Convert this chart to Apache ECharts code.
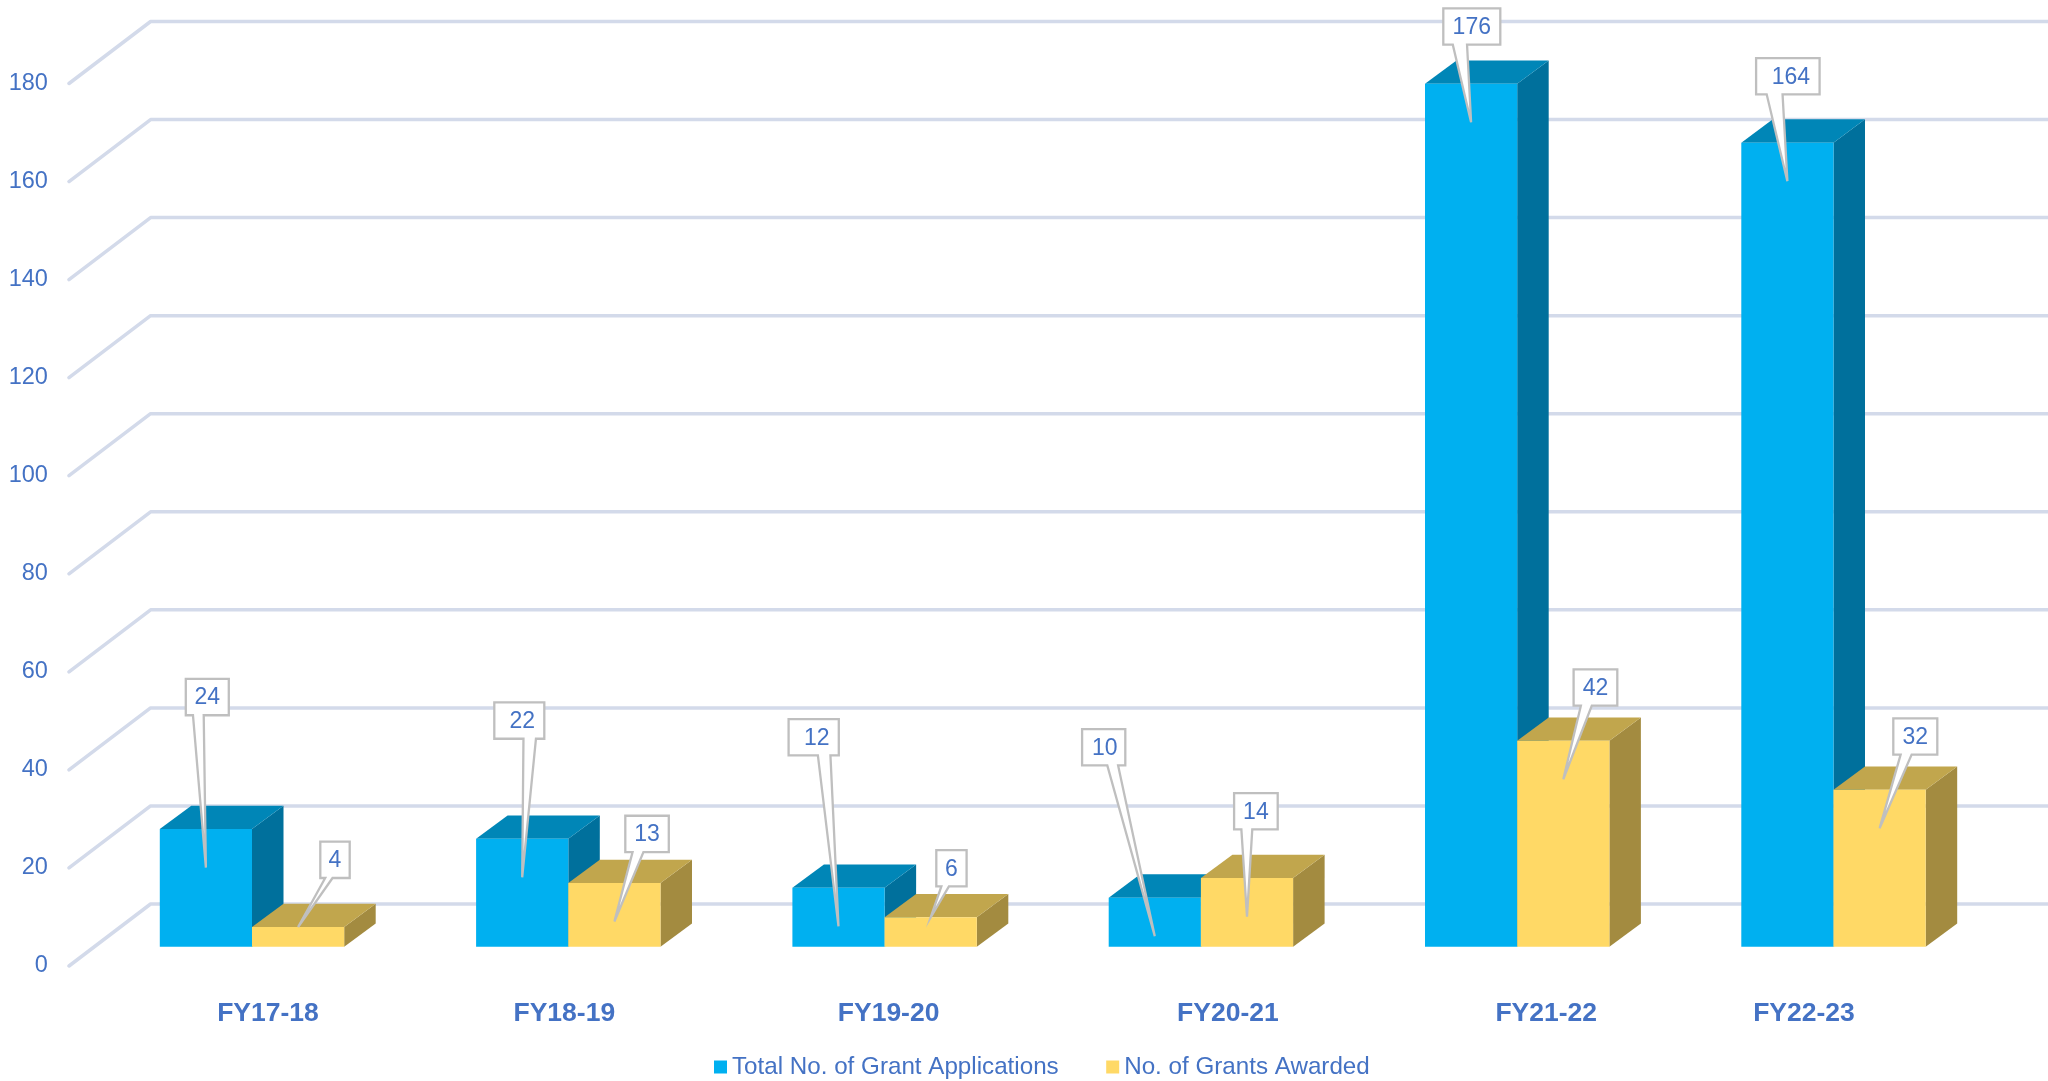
<!DOCTYPE html>
<html>
<head>
<meta charset="utf-8">
<style>html,body{margin:0;padding:0;background:#fff}#c{width:2048px;height:1081px}</style>
<script src="https://cdn.jsdelivr.net/npm/echarts@6/dist/echarts.min.js"></script>
</head>
<body>
<div id="c"></div>
<script>
const categories = ['FY17-18','FY18-19','FY19-20','FY20-21','FY21-22','FY22-23'];
const applications = [24,22,12,10,176,164];
const awarded = [4,13,6,14,42,32];
const yTicks = [0,20,40,60,80,100,120,140,160,180];
// horizontal nudge of each category label away from its band centre
const labelShift = [16,-4,4,27,29,-29.5];
// callout boxes, relative to the top-centre of their bar: [dx, dy, width, textShift]
const applicationCallouts = [[-20.1,-150.1,43,0],[-27.9,-136.4,50,3],[-49.9,-168.8,50.2,3],[-72.7,-168.6,43.2,1],[-27.8,-75.4,57,0],[-31.3,-84.6,63.5,3]];
const awardedCallouts = [[22.2,-85.4,29.4,0],[10.9,-67.2,43.5,0],[5.6,-67.2,30.3,0],[-12.9,-84.9,43.6,0],[10.3,-71.4,43.7,0],[13.7,-71.5,44,0]];

const TEXT = '#4472C4', FONT = '"Liberation Sans", Arial, sans-serif';
const GRID = '#D3DAEA', BORDER = '#BFBFBF';
const WALL_DX = 81.6, WALL_DY = 62, WALL_LEFT_GAP = 24.85;
const BAR_RATIO = 0.2915, DEPTH_DX = 31.5, DEPTH_DY = 23.3, FLOOR_RISE = 19.3;
const BOX_H = 36.3, TIP_DEPTH = 38.5;

function wallItem(params, api) {
  const y = api.coord([0, api.value(1)])[1];
  const x0 = params.coordSys.x - WALL_LEFT_GAP;
  return { type: 'polyline', silent: true,
    shape: { points: [[x0, y], [x0 + WALL_DX, y - WALL_DY], [api.getWidth() + 10, y - WALL_DY]] },
    style: { stroke: GRID, lineWidth: 3.5, fill: null, lineCap: 'round', lineJoin: 'round' } };
}

function barGeom(api, side) {
  const p = api.coord([api.value(0), api.value(1)]);
  const z = api.coord([api.value(0), 0]);
  const w = api.size([1, 0])[0] * BAR_RATIO;
  const left = p[0] + (side < 0 ? -w : 0);
  return { left, right: left + w, cx: left + w / 2, top: p[1] - FLOOR_RISE, base: z[1] - FLOOR_RISE };
}

function barRenderer(side, front, topC, sideC) {
  return function (params, api) {
    const g = barGeom(api, side);
    return { type: 'group', silent: true, children: [
      { type: 'polygon', shape: { points: [[g.right, g.top], [g.right + DEPTH_DX, g.top - DEPTH_DY], [g.right + DEPTH_DX, g.base - DEPTH_DY], [g.right, g.base]] }, style: { fill: sideC } },
      { type: 'polygon', shape: { points: [[g.left, g.top], [g.left + DEPTH_DX, g.top - DEPTH_DY], [g.right + DEPTH_DX, g.top - DEPTH_DY], [g.right, g.top]] }, style: { fill: topC } },
      { type: 'rect', shape: { x: g.left, y: g.top, width: g.right - g.left, height: g.base - g.top }, style: { fill: front } }
    ] };
  };
}

function calloutRenderer(side, table) {
  return function (params, api) {
    const g = barGeom(api, side);
    const c = table[params.dataIndex];
    const L = g.cx + c[0], T = g.top + c[1], W = c[2], B = T + BOX_H;
    const tipX = g.cx, tipY = (g.base - g.top) > TIP_DEPTH ? g.top + TIP_DEPTH : g.top;
    const onRight = tipX > L + W / 2 + 0.5;
    const b1 = L + W * (onRight ? 7 / 12 : 1 / 6), b2 = L + W * (onRight ? 5 / 6 : 5 / 12);
    return { type: 'group', silent: true, children: [
      { type: 'polygon', shape: { points: [[L, T], [L + W, T], [L + W, B], [b2, B], [tipX, tipY], [b1, B], [L, B]] },
        style: { fill: '#fff', stroke: BORDER, lineWidth: 2.3, lineJoin: 'miter' } },
      { type: 'text', style: { text: String(api.value(1)), x: L + W / 2 + c[3], y: T + BOX_H / 2 + 1, align: 'center', verticalAlign: 'middle', fill: TEXT, font: '23px ' + FONT } }
    ] };
  };
}

const toData = arr => arr.map((v, i) => [categories[i], v]);
const chart = echarts.init(document.getElementById('c'), null, { renderer: 'canvas', width: 2048, height: 1081 });
chart.setOption({
  backgroundColor: '#fff',
  animation: false,
  grid: { left: 93.85, width: 1897.8, top: 83.5, height: 882.5, containLabel: false },
  legend: {
    data: ['Total No. of Grant Applications', 'No. of Grants Awarded'],
    left: 709, top: 1050, itemWidth: 13, itemHeight: 13, itemGap: 47.5, icon: 'rect',
    selectedMode: false,
    textStyle: { color: TEXT, fontSize: 24.2, fontFamily: FONT }
  },
  xAxis: {
    type: 'category',
    data: categories.map((c, i) => ({
      value: c,
      textStyle: { padding: labelShift[i] > 0 ? [0, 0, 0, 2 * labelShift[i]] : [0, -2 * labelShift[i], 0, 0] }
    })),
    axisLine: { show: false }, axisTick: { show: false }, splitLine: { show: false },
    axisLabel: { interval: 0, margin: 34, color: TEXT, fontSize: 26.5, fontWeight: 'bold', fontFamily: FONT }
  },
  yAxis: {
    type: 'value', min: 0, max: 180, interval: 20,
    axisLine: { show: false }, axisTick: { show: false }, splitLine: { show: false },
    axisLabel: { margin: 46, color: TEXT, fontSize: 23.5, fontFamily: FONT, padding: [2, 0, 0, 0], formatter: v => String(v) }
  },
  series: [
    { type: 'custom', name: 'walls', z: 1, silent: true, clip: false, encode: { x: 0, y: 1 }, data: yTicks.map(v => [categories[0], v]), renderItem: wallItem },
    { type: 'custom', name: 'Total No. of Grant Applications', z: 2, clip: false, silent: true, itemStyle: { color: '#00B0F0' }, encode: { x: 0, y: 1 }, data: toData(applications), renderItem: barRenderer(-1, '#00B0F0', '#0086B7', '#00709C') },
    { type: 'custom', name: 'No. of Grants Awarded', z: 3, clip: false, silent: true, itemStyle: { color: '#FFD966' }, encode: { x: 0, y: 1 }, data: toData(awarded), renderItem: barRenderer(1, '#FFD966', '#C1A64D', '#A38B40') },
    { type: 'custom', name: 'appCallouts', z: 4, clip: false, silent: true, encode: { x: 0, y: 1 }, data: toData(applications), renderItem: calloutRenderer(-1, applicationCallouts) },
    { type: 'custom', name: 'awardCallouts', z: 4, clip: false, silent: true, encode: { x: 0, y: 1 }, data: toData(awarded), renderItem: calloutRenderer(1, awardedCallouts) }
  ]
});
</script>
</body>
</html>
